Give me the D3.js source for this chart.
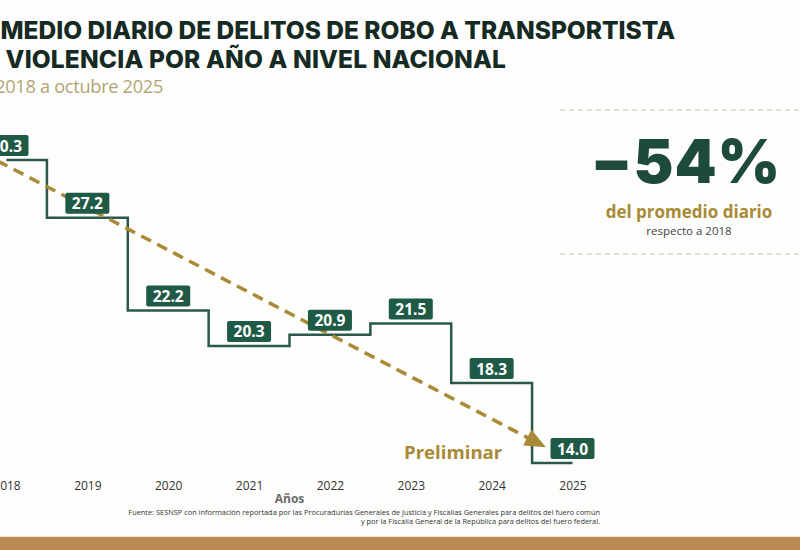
<!DOCTYPE html>
<html>
<head>
<meta charset="utf-8">
<script src="https://cdn.jsdelivr.net/npm/d3@7"></script>
<style>
  body { margin: 0; background: #fdfdfc; }
  svg { display: block; }
</style>
</head>
<body>
<div class="canvas"></div>
<script>
// Data
const years = ['2018', '2019', '2020', '2021', '2022', '2023', '2024', '2025'];
const values = [30.3, 27.2, 22.2, 20.3, 20.9, 21.5, 18.3, 14.0];
const trendValues = [30.0, 14.1];   // start (2018) and end (2025) of the dashed trend
const titleLines = [
    'PROMEDIO DIARIO DE DELITOS DE ROBO A TRANSPORTISTA',
    'CON VIOLENCIA POR AÑO A NIVEL NACIONAL'
];
const subtitle = 'Enero 2018 a octubre 2025';
const sourceLines = [
    'Fuente: SESNSP con información reportada por las Procuradurías Generales de Justicia y Fiscalías Generales para delitos del fuero común',
    'y por la Fiscalía General de la República para delitos del fuero federal.'
];

// Graph set up
const svgWidth = 800;
const svgHeight = 550;

const green = '#1f5a46';
const gold = '#a98a36';

const svg = d3.select('.canvas')
    .append('svg')
    .attr('width', svgWidth)
    .attr('height', svgHeight);

// Scales
const x = d3.scalePoint().domain(years).range([6.5, 572.5]);
const y = d3.scaleLinear().domain([14, 30.3]).range([463, 160]);

// Title (left part runs off the picture, as in the original crop)
svg.append('text')
    .attr('x', 675).attr('y', 39)
    .attr('text-anchor', 'end')
    .style('font-family', 'Inter, sans-serif')
    .style('font-weight', 800)
    .style('font-size', '24.5px')
    .attr('fill', '#152a22')
    .text(titleLines[0]);

svg.append('text')
    .attr('x', 506).attr('y', 68)
    .attr('text-anchor', 'end')
    .style('font-family', 'Inter, sans-serif')
    .style('font-weight', 800)
    .style('font-size', '24.5px')
    .style('letter-spacing', '0.15px')
    .attr('fill', '#152a22')
    .text(titleLines[1]);

svg.append('text')
    .attr('x', 163).attr('y', 93)
    .attr('text-anchor', 'end')
    .style('font-family', '"Open Sans", sans-serif')
    .style('font-size', '18.2px')
    .style('letter-spacing', '-0.3px')
    .attr('fill', '#b3a476')
    .text(subtitle);

// Step line
const line = d3.line()
    .x((d, i) => x(years[i]))
    .y(d => y(d))
    .curve(d3.curveStep);

svg.append('path')
    .datum(values)
    .attr('fill', 'none')
    .attr('stroke', '#2b5848')
    .attr('stroke-width', 2.5)
    .attr('d', line);

// Trend arrow
const x0 = x(years[0]), y0 = y(trendValues[0]);
const x1 = x(years[years.length - 1]), y1 = y(trendValues[1]);
const len = Math.hypot(x1 - x0, y1 - y0);
const ux = (x1 - x0) / len, uy = (y1 - y0) / len;
const tipX = x1 - ux * 30, tipY = y1 - uy * 30;
const headLen = 21, headW = 9;

svg.append('line')
    .attr('x1', x0 - ux * 10).attr('y1', y0 - uy * 10)
    .attr('x2', tipX - ux * headLen * 0.8).attr('y2', tipY - uy * headLen * 0.8)
    .attr('stroke', gold)
    .attr('stroke-width', 3.5)
    .attr('stroke-dasharray', '11 7');

const bx = tipX - ux * headLen, by = tipY - uy * headLen;
svg.append('path')
    .attr('d', `M${tipX},${tipY} L${bx - uy * headW},${by + ux * headW} L${bx + uy * headW},${by - ux * headW} Z`)
    .attr('fill', gold);

// Value labels
const labels = svg.append('g').selectAll('g')
    .data(values)
    .enter()
    .append('g')
    .attr('transform', (d, i) => `translate(${x(years[i])},${y(d) - 4})`);

labels.append('rect')
    .attr('x', -22).attr('y', -21)
    .attr('width', 44).attr('height', 21)
    .attr('rx', 2)
    .attr('fill', green);

labels.append('text')
    .attr('y', -4.5)
    .attr('text-anchor', 'middle')
    .style('font-family', '"Open Sans", sans-serif')
    .style('font-weight', 700)
    .style('font-size', '15.5px')
    .attr('fill', '#fff')
    .text(d => d.toFixed(1));

// Preliminar
svg.append('text')
    .attr('x', 404).attr('y', 459)
    .style('font-family', '"Open Sans", sans-serif')
    .style('font-weight', 700)
    .style('font-size', '18.6px')
    .attr('fill', gold)
    .text('Preliminar');

// X axis
const xAxis = d3.axisBottom(x).tickSize(0).tickPadding(0);
const xAxisGroup = svg.append('g')
    .attr('transform', 'translate(0,479)')
    .call(xAxis);
xAxisGroup.select('.domain').remove();
xAxisGroup.selectAll('text')
    .attr('dy', '0.95em')
    .style('font-family', '"Open Sans", sans-serif')
    .style('font-size', '12px')
    .attr('fill', '#333');

svg.append('text')
    .attr('x', (x.range()[0] + x.range()[1]) / 2).attr('y', 503)
    .attr('text-anchor', 'middle')
    .style('font-family', '"Open Sans", sans-serif')
    .style('font-weight', 700)
    .style('font-size', '12px')
    .attr('fill', '#6b6b6b')
    .text('Años');

// Source
svg.append('g').selectAll('text')
    .data(sourceLines)
    .enter()
    .append('text')
    .attr('x', 600)
    .attr('y', (d, i) => 515 + i * 8.5)
    .attr('text-anchor', 'end')
    .style('font-family', '"Open Sans", sans-serif')
    .style('font-size', '7.4px')
    .attr('fill', '#333')
    .text(d => d);

// Side panel
[110, 254].forEach(py => {
    svg.append('line')
        .attr('x1', 560).attr('x2', 800)
        .attr('y1', py).attr('y2', py)
        .attr('stroke', '#c9c1a0')
        .attr('stroke-width', 1)
        .attr('stroke-dasharray', '5 4');
});

svg.append('text')
    .attr('x', 686).attr('y', 183)
    .attr('text-anchor', 'middle')
    .style('font-family', 'Inter, sans-serif')
    .style('font-weight', 900)
    .style('font-size', '60px')
    .style('letter-spacing', '1px')
    .attr('fill', '#1d4a3a')
    .text('\u221254%');

svg.append('text')
    .attr('x', 689).attr('y', 218)
    .attr('text-anchor', 'middle')
    .style('font-family', '"Open Sans", sans-serif')
    .style('font-weight', 700)
    .style('font-size', '17px')
    .attr('fill', gold)
    .text('del promedio diario');

svg.append('text')
    .attr('x', 689).attr('y', 235)
    .attr('text-anchor', 'middle')
    .style('font-family', '"Open Sans", sans-serif')
    .style('font-size', '11.5px')
    .attr('fill', '#444')
    .text('respecto a 2018');

// Bottom band
svg.append('rect')
    .attr('x', 0).attr('y', 536)
    .attr('width', svgWidth).attr('height', 1.5)
    .attr('fill', '#eee4be');
svg.append('rect')
    .attr('x', 0).attr('y', 537)
    .attr('width', svgWidth).attr('height', 13)
    .attr('fill', '#b98a52');
</script>
</body>
</html>
